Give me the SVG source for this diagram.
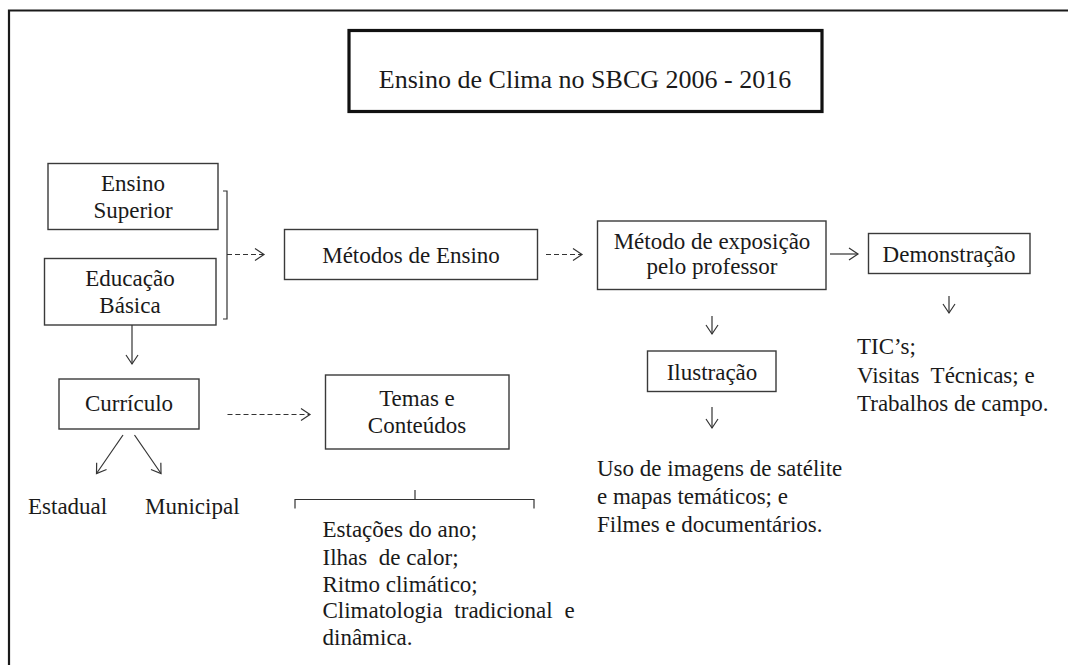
<svg xmlns="http://www.w3.org/2000/svg" width="1068" height="665" viewBox="0 0 1068 665" font-family="Liberation Serif">
<defs>
<style>
.nbox{fill:#fff;stroke:#3a3a3a;stroke-width:1.4}
.lbl{font-family:'Liberation Serif','Times New Roman',serif;font-size:23px;fill:#1a1a1a}
.mid{text-anchor:middle}
.conn{fill:none;stroke:#333;stroke-width:1.2}
.dashed{stroke-dasharray:5 3}
</style>
<marker id="ah" markerUnits="userSpaceOnUse" markerWidth="12" markerHeight="14" refX="10" refY="7" orient="auto">
<path d="M1,1 L10,7 L1,13" fill="none" stroke="#333" stroke-width="1.2"/>
</marker>
</defs>
<rect width="1068" height="665" fill="#fff"/>
<path d="M9,665 V10.5 H1068" fill="none" stroke="#1a1a1a" stroke-width="2.2"/>

<g id="title">
<rect x="349" y="30.5" width="473" height="81" fill="#fff" stroke="#111" stroke-width="3.2"/>
<text class="lbl mid" x="585" y="88" style="font-size:26px">Ensino de Clima no SBCG 2006 - 2016</text>
</g>

<g id="ensino-superior">
<rect class="nbox" x="48" y="163.5" width="170" height="66"/>
<text class="lbl mid" x="133" y="191">Ensino</text>
<text class="lbl mid" x="133" y="218">Superior</text>
</g>

<g id="educacao-basica">
<rect class="nbox" x="44.5" y="258.5" width="171.5" height="66.5"/>
<text class="lbl mid" x="130" y="286">Educação</text>
<text class="lbl mid" x="130" y="313">Básica</text>
</g>

<g id="metodos-ensino">
<rect class="nbox" x="284.5" y="229.5" width="253" height="50"/>
<text class="lbl mid" x="411" y="263">Métodos de Ensino</text>
</g>

<g id="metodo-exposicao">
<rect class="nbox" x="597.5" y="221" width="228.5" height="68.5"/>
<text class="lbl mid" x="712" y="249">Método de exposição</text>
<text class="lbl mid" x="712" y="274">pelo professor</text>
</g>

<g id="demonstracao">
<rect class="nbox" x="868.5" y="233.5" width="161.5" height="40"/>
<text class="lbl mid" x="949" y="262">Demonstração</text>
</g>

<g id="tics">
<text class="lbl" x="857" y="354">TIC’s;</text>
<text class="lbl" x="857" y="383" xml:space="preserve">Visitas  Técnicas; e</text>
<text class="lbl" x="857" y="411">Trabalhos de campo.</text>
</g>

<g id="ilustracao">
<rect class="nbox" x="647.5" y="351" width="128.5" height="40.5"/>
<text class="lbl mid" x="712" y="380">Ilustração</text>
</g>

<g id="uso-imagens">
<text class="lbl" x="597" y="476">Uso de imagens de satélite</text>
<text class="lbl" x="597" y="504">e mapas temáticos; e</text>
<text class="lbl" x="597" y="532">Filmes e documentários.</text>
</g>

<g id="curriculo">
<rect class="nbox" x="59" y="379" width="140" height="50"/>
<text class="lbl mid" x="129" y="411">Currículo</text>
</g>

<g id="estadual">
<text class="lbl" x="28" y="514">Estadual</text>
</g>
<g id="municipal">
<text class="lbl" x="145" y="514">Municipal</text>
</g>

<g id="temas-conteudos">
<rect class="nbox" x="325.5" y="375" width="183.5" height="74"/>
<text class="lbl mid" x="417" y="406">Temas e</text>
<text class="lbl mid" x="417" y="433">Conteúdos</text>
</g>

<g id="lista-temas">
<text class="lbl" x="322.5" y="537">Estações do ano;</text>
<text class="lbl" x="322.5" y="565" xml:space="preserve">Ilhas  de calor;</text>
<text class="lbl" x="322.5" y="592">Ritmo climático;</text>
<text class="lbl" x="322.5" y="618" style="word-spacing:6px">Climatologia tradicional e</text>
<text class="lbl" x="322.5" y="645">dinâmica.</text>
</g>

<g id="connectors">
<path class="conn" d="M223,191 H227 V319 H223"/>
<path class="conn dashed" d="M227,254.5 H264" marker-end="url(#ah)"/>
<path class="conn dashed" d="M546,254.5 H582" marker-end="url(#ah)"/>
<path class="conn" d="M830,254 H858" marker-end="url(#ah)"/>
<path class="conn" d="M949,296 V313" marker-end="url(#ah)"/>
<path class="conn" d="M712,316 V334" marker-end="url(#ah)"/>
<path class="conn" d="M712,407 V428" marker-end="url(#ah)"/>
<path class="conn" d="M132,325 V364" marker-end="url(#ah)"/>
<path class="conn" d="M123,435 L96.5,473.5" marker-end="url(#ah)"/>
<path class="conn" d="M134.5,435 L161,473.5" marker-end="url(#ah)"/>
<path class="conn dashed" d="M227.5,414.5 H310" marker-end="url(#ah)"/>
<path class="conn" d="M295,508.5 V499.5 H534 V508.5 M415,499.5 V490"/>
</g>
</svg>
